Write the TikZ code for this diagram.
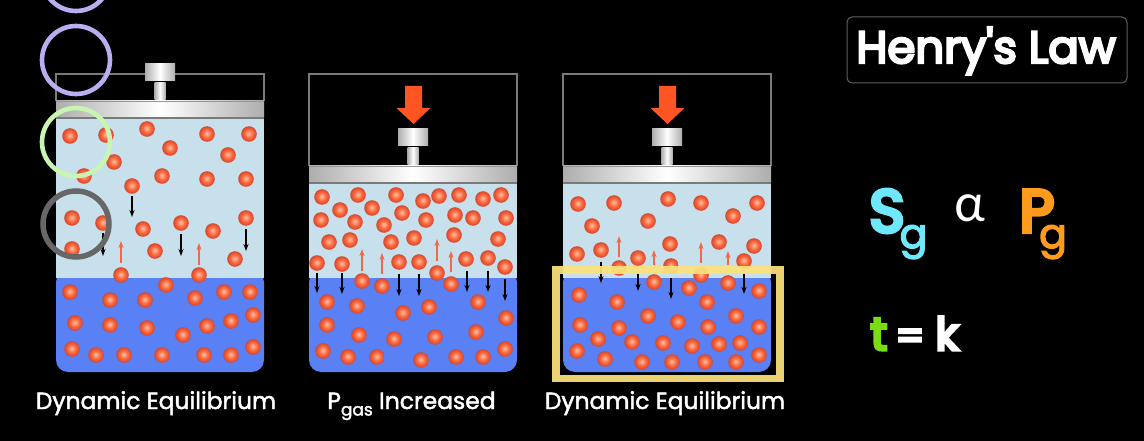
\documentclass[tikz,border=0pt]{standalone}
\usepackage{fontspec}
\setmainfont{Poppins}
\newfontfamily\greekf{Lato}
\newfontfamily\medf[FakeBold=2]{Poppins}
\newfontfamily\strongf[FakeBold=3.2]{Poppins}
\newfontfamily\titlef[FakeBold=5.5]{Poppins}
\newfontfamily\heavyf[FakeBold=7]{Poppins}
\usetikzlibrary{arrows.meta}
\definecolor{gasc}{HTML}{C7E0EC}
\definecolor{liqc}{HTML}{5A80F6}
\definecolor{framec}{HTML}{7A7A7A}
\definecolor{uparrow}{HTML}{F2694A}
\definecolor{pressc}{HTML}{FF5522}
\definecolor{yellowc}{HTML}{FCE27C}
\definecolor{purplec}{HTML}{B9AEF0}
\definecolor{greenc}{HTML}{C9F5B2}
\definecolor{grayc}{HTML}{676767}
\definecolor{cyanc}{HTML}{70E8FB}
\definecolor{orangec}{HTML}{FF9B1C}
\definecolor{limec}{HTML}{78DD12}
\pgfdeclareradialshading{redball}{\pgfqpoint{-1bp}{2bp}}{%
  rgb(0bp)=(1,.74,.62); rgb(6bp)=(1,.60,.46); rgb(14bp)=(.97,.40,.24);
  rgb(22bp)=(.91,.30,.18); rgb(25bp)=(.74,.30,.20); rgb(50bp)=(.74,.30,.20)}
\tikzset{
  gasbody/.style={fill=gasc},
  liqbody/.style={fill=liqc},
  metal/.style={left color=black!32,right color=black!32,middle color=white,draw=none},
  wall/.style={draw=framec,line width=1.4pt},
  downarr/.style={draw=black,line width=1.3pt,-{Stealth[length=7pt,width=5pt]}},
  uparr/.style={draw=uparrow,line width=1.3pt,-{Stealth[length=7pt,width=5pt]}},
  ring/.style={line width=4.6pt,fill=none},
  caption/.style={text=white,font=\medf\fontsize{23.4}{26}\selectfont,anchor=base,inner sep=0pt},
  bigtext/.style={anchor=base,inner sep=0pt},
  pressarrow/.style={fill=pressc,draw=none}
}
\newcommand{\cylbody}[2]{%
  \pgfmathsetmacro{\xr}{#1+208}\pgfmathsetmacro{\xm}{#1+104}
  \pgfmathsetmacro{\pb}{#2+17}
  \fill[liqbody,rounded corners=12pt] (#1,270) -- (#1,372) -- (\xr,372) -- (\xr,270) -- cycle;
  \fill[gasbody] (#1,\pb) rectangle (\xr,278);
  \draw[wall] (#1,#2) -- (#1,74) -- (\xr,74) -- (\xr,#2);
  \shade[metal] (#1,#2) rectangle (\xr,\pb);
  \draw[framec,line width=1.2pt] (#1,\pb) -- (\xr,\pb);
  \draw[framec!80,line width=.6pt] (#1,#2) -- (\xr,#2);
  \shade[metal] (\xm-5.5,#2-18) rectangle (\xm+5.5,#2-1);
  \shade[metal] (\xm-15,#2-37) rectangle (\xm+15,#2-20);
}
\newcommand{\pressdown}[1]{%
  \fill[pressarrow] (#1-8.5,86) -- (#1+8.5,86) -- (#1+8.5,108) -- (#1+17,108) -- (#1,124) -- (#1-17,108) -- (#1-8.5,108) -- cycle;
}
\newcommand{\balls}[1]{%
  \foreach \bx/\by in {#1} {\shade[shading=redball] (\bx,\by) circle[radius=7.8];}
}
\begin{document}
\begin{tikzpicture}[x=1pt,y=-1pt]
\useasboundingbox (0,0) rectangle (1144,441);
\clip (0,0) rectangle (1144,441);
\fill[black] (0,0) rectangle (1144,441);

% cylinder 1
\cylbody{56}{101}
\foreach \ax/\ay/\bx in {132/196/217,103/233/256,181/234/256,246/229/251}
  \draw[downarr] (\ax,\ay) -- (\ax,\bx);
\foreach \ax/\ay/\bx in {121/263/241,199/265/243}
  \draw[uparr] (\ax,\ay) -- (\ax,\bx);
\balls{70/136,106/135,147/129,170/148,207/134,249/134,228/155,114/162,84/176,132/186,162/176,207/179,246/179,
72/218,103/223,143/229,181/223,213/231,246/218,72/249,155/251,235/259,121/275,199/275,166/285,
70/292,110/300,145/300,195/298,224/292,250/292,75/323,110/325,147/328,183/335,207/326,231/321,253/315,
72/349,96/355,124/355,162/355,204/355,231/355,253/347}

% cylinder 2
\cylbody{309}{166}
\pressdown{413.5}
\foreach \ax/\ay/\bx in {317/273/293,342/273/294,399/274/296,419/274/296,467/271/292,488/271/292,505/279/301}
  \draw[downarr] (\ax,\ay) -- (\ax,\bx);
\foreach \ax/\ay/\bx in {362/271/249,382/274/253,437/261/239,451/272/251}
  \draw[uparr] (\ax,\ay) -- (\ax,\bx);
\balls{322/197,358/195,396/195,423/201,439/196,459/195,483/199,501/195,340/210,372/208,402/213,455/215,
321/220,355/222,384/225,426/220,473/218,506/218,329/242,350/240,391/242,414/238,454/235,498/239,
317/263,342/264,399/262,419/262,466/259,488/258,505/267,437/273,362/281,382/286,451/284,
327/302,357/306,403/313,429/307,478/302,506/318,327/325,359/335,394/339,435/337,476/332,505/349,
323/351,348/357,377/357,421/360,456/357,483/357}

% cylinder 3
\cylbody{563}{166}
\pressdown{667.5}
\foreach \ax/\ay/\bx in {601/262/283,638/273/291,671/278/299,744/273/294}
  \draw[downarr] (\ax,\ay) -- (\ax,\bx);
\foreach \ax/\ay/\bx in {619/257/236,654/265/250,701/263/242,728/265/251}
  \draw[uparr] (\ax,\ay) -- (\ax,\bx);
\balls{578/204,614/203,668/199,701/203,757/203,733/216,592/226,648/221,670/244,719/242,754/246,
601/250,577/254,619/268,638/258,671/266,701/275,744/261,654/282,689/288,728/283,759/291,
579/295,617/302,707/302,648/316,678/322,736/316,580/325,619/328,708/327,759/327,
598/339,632/342,663/343,692/346,719/344,740/343,577/351,605/359,642/362,672/362,705/362,736/362,759/355}
\draw[yellowc,line width=7.6pt,opacity=.93] (556,270) rectangle (780,378.5);

% rings
\draw[ring,purplec] (76,-23) circle[radius=34];
\draw[ring,purplec] (76,60) circle[radius=34];
\draw[ring,greenc] (76,142) circle[radius=34];
\draw[ring,grayc,line width=5.5pt] (76,224) circle[radius=33];

% captions
\node[caption] (cap1) at (156,409) {Dynamic Equilibrium};
\node[caption] (cap2) at (411.5,409) {P\raisebox{-6.5pt}{\fontsize{17}{18}\selectfont gas} Increased};
\node[caption] (cap3) at (665,409) {Dynamic Equilibrium};

% title
\draw[draw=black!62,line width=1pt,rounded corners=5pt] (847,17) rectangle (1127,83);
\node[bigtext,text=white,font=\titlef\fontsize{45}{48}\selectfont] (title) at (986,63) {Henry\symbol{39}s Law};

% formula
\node[bigtext,text=cyanc,font=\heavyf\fontsize{60}{64}\selectfont] (s) at (887,232) {S};
\node[bigtext,text=cyanc,font=\strongf\fontsize{41}{44}\selectfont] (sg) at (913.5,248) {g};
\node[bigtext,text=white,font=\greekf\fontsize{52}{54}\selectfont] (alpha) at (970,222) {α};
\node[bigtext,text=orangec,font=\heavyf\fontsize{60}{64}\selectfont] (p) at (1037,232) {P};
\node[bigtext,text=orangec,font=\strongf\fontsize{41}{44}\selectfont] (pg) at (1053,248) {g};
\node[bigtext,text=limec,font=\heavyf\fontsize{46}{48}\selectfont] (t) at (879,350) {t};
\node[bigtext,text=white,font=\heavyf\fontsize{40}{44}\selectfont] (eq) at (910,350) {=};
\node[bigtext,text=white,font=\heavyf\fontsize{45}{48}\selectfont] (k) at (947,350) {k};
\end{tikzpicture}
\end{document}
